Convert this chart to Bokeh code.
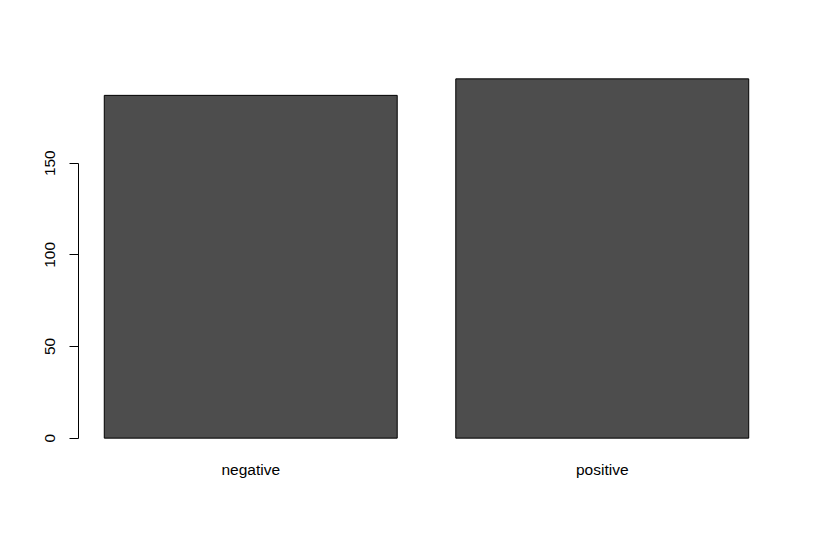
import math
from bokeh.plotting import figure
from bokeh.models import Range1d, FixedTicker, LinearAxis, ColumnDataSource
from bokeh.embed import file_html
from bokeh.resources import INLINE

categories = ["negative", "positive"]
counts = [187, 196]
y_ticks = [0, 50, 100, 150]

# R barplot geometry: width 1, space 0.2
bar_width = 1.0
space = 0.2
centers = [space + bar_width / 2 + i * (bar_width + space) for i in range(len(categories))]
xlo, xhi = space, centers[-1] + bar_width / 2
xpad = 0.04 * (xhi - xlo)
ymax = max(counts)
ypad = 0.04 * ymax

p = figure(width=815, height=539, output_backend="svg", toolbar_location=None,
           x_range=Range1d(xlo - xpad, xhi + xpad), y_range=Range1d(-ypad, ymax + ypad),
           x_axis_location=None, y_axis_location=None,
           min_border_left=78, min_border_right=41, min_border_top=64, min_border_bottom=87)
p.outline_line_color = None
p.xgrid.visible = False
p.ygrid.visible = False
p.background_fill_color = "white"
p.border_fill_color = "white"

src = ColumnDataSource(dict(x=centers, top=counts, cat=categories))
p.vbar(x="x", top="top", bottom=0, width=bar_width, source=src,
       fill_color="#4D4D4D", line_color="black", line_width=1)

font = "Liberation Sans"
fs = "15.5px"

yaxis = LinearAxis(ticker=FixedTicker(ticks=y_ticks), bounds=(0, 150))
yaxis.axis_line_color = "black"
yaxis.major_tick_line_color = "black"
yaxis.major_tick_out = 9
yaxis.major_tick_in = 0
yaxis.minor_tick_line_color = None
yaxis.major_label_orientation = "parallel"
yaxis.major_label_standoff = 14
yaxis.major_label_text_font = font
yaxis.major_label_text_font_size = fs
yaxis.major_label_text_color = "black"
p.add_layout(yaxis, "left")

xaxis = LinearAxis(ticker=FixedTicker(ticks=centers),
                   major_label_overrides={c: name for c, name in zip(centers, categories)})
xaxis.axis_line_color = None
xaxis.major_tick_line_color = None
xaxis.minor_tick_line_color = None
xaxis.major_label_standoff = 2
xaxis.major_label_text_font = font
xaxis.major_label_text_font_size = fs
xaxis.major_label_text_color = "black"
p.add_layout(xaxis, "below")

open("out.html", "w").write(file_html(p, INLINE))
